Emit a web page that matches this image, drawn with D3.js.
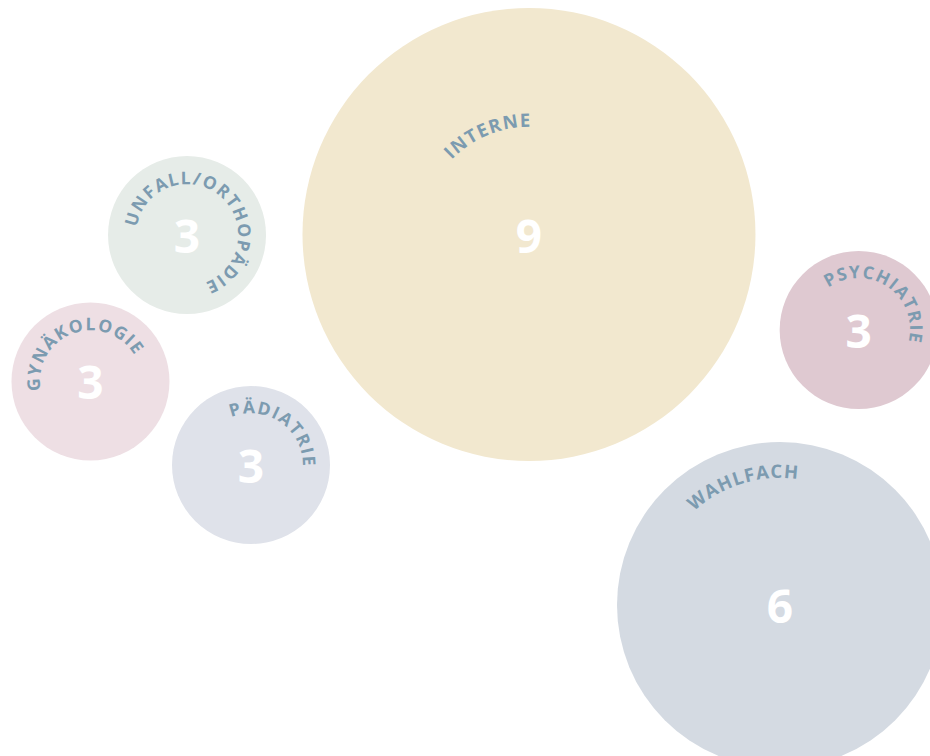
<!DOCTYPE html>
<html>
<head>
<meta charset="utf-8">
<script src="https://cdn.jsdelivr.net/npm/d3@7"></script>
<style>
  html, body { margin: 0; padding: 0; background: #ffffff; overflow: hidden; }
  svg { display: block; }
</style>
</head>
<body>
<div id="chart"></div>
<script>
// ---- data ----
const categories = ["Interne", "Unfall/Orthopädie", "Gynäkologie", "Pädiatrie", "Psychiatrie", "Wahlfach"];
const values = [9, 3, 3, 3, 3, 6];

// ---- styles ----
const fillColors = ["#f2e8cf", "#e6ece8", "#eedfe4", "#dfe2ea", "#dfc9d1", "#d4dae2"];
const labelColor = "#7c9bb0";

// ---- layout (bubble anchors in fractions of the canvas, label arc placement) ----
const anchorX = [0.5688, 0.2011, 0.0973, 0.2699, 0.9233, 0.8387];
const anchorY = [0.3102, 0.3108, 0.5046, 0.6151, 0.4365, 0.8003];
const labelMidAngle = [-22.5, 39.5, -20.5, 34.7, 35, -16.9];   // degrees clockwise from top
const labelRadiusFrac = [0.475, 0.645, 0.645, 0.655, 0.655, 0.78];
const labelSize = [18.5, 17.5, 17.5, 17.5, 17.5, 18.5];
const labelSpacing = [1.3, 1.4, 1.4, 1.4, 1.4, 1.1];

const width = 930, height = 756;

const x = d3.scaleLinear().domain([0, 1]).range([0, width]);
const y = d3.scaleLinear().domain([0, 1]).range([0, height]);
const r = d3.scaleLinear().domain([3, 6, 9]).range([79, 163, 226.5]);

const nodes = categories.map((c, i) => ({
  name: c, value: values[i], color: fillColors[i],
  cx: x(anchorX[i]), cy: y(anchorY[i]), r: r(values[i]),
  mid: labelMidAngle[i] * Math.PI / 180,
  lr: r(values[i]) * labelRadiusFrac[i],
  fs: labelSize[i], ls: labelSpacing[i], i
}));

const svg = d3.select("#chart").append("svg")
  .attr("width", width).attr("height", height);

const defs = svg.append("defs");

const g = svg.selectAll("g.bubble").data(nodes).join("g").attr("class", "bubble");

g.append("circle")
  .attr("cx", d => d.cx).attr("cy", d => d.cy).attr("r", d => d.r)
  .attr("fill", d => d.color);

// label arc paths: full circle starting opposite the label's mid angle, clockwise
defs.selectAll("path").data(nodes).join("path")
  .attr("id", d => "arc" + d.i)
  .attr("d", d => {
    const p = d3.path();
    const a0 = d.mid - Math.PI - Math.PI / 2;
    p.arc(d.cx, d.cy, d.lr, a0, a0 + 2 * Math.PI - 0.0001, false);
    return p.toString();
  });

g.append("text")
  .attr("fill", labelColor)
  .attr("font-family", "'Open Sans', 'DejaVu Sans', sans-serif")
  .attr("font-weight", 700)
  .attr("font-size", d => d.fs)
  .attr("letter-spacing", d => d.ls)
  .append("textPath")
  .attr("href", d => "#arc" + d.i)
  .attr("startOffset", "50%")
  .attr("text-anchor", "middle")
  .text(d => d.name.toUpperCase());

g.append("text")
  .attr("x", d => d.cx).attr("y", d => d.cy)
  .attr("text-anchor", "middle")
  .attr("dominant-baseline", "central")
  .attr("fill", "#ffffff")
  .attr("font-family", "'Open Sans', 'DejaVu Sans', sans-serif")
  .attr("font-weight", 700)
  .attr("font-size", 46)
  .text(d => d.value);
</script>
</body>
</html>
